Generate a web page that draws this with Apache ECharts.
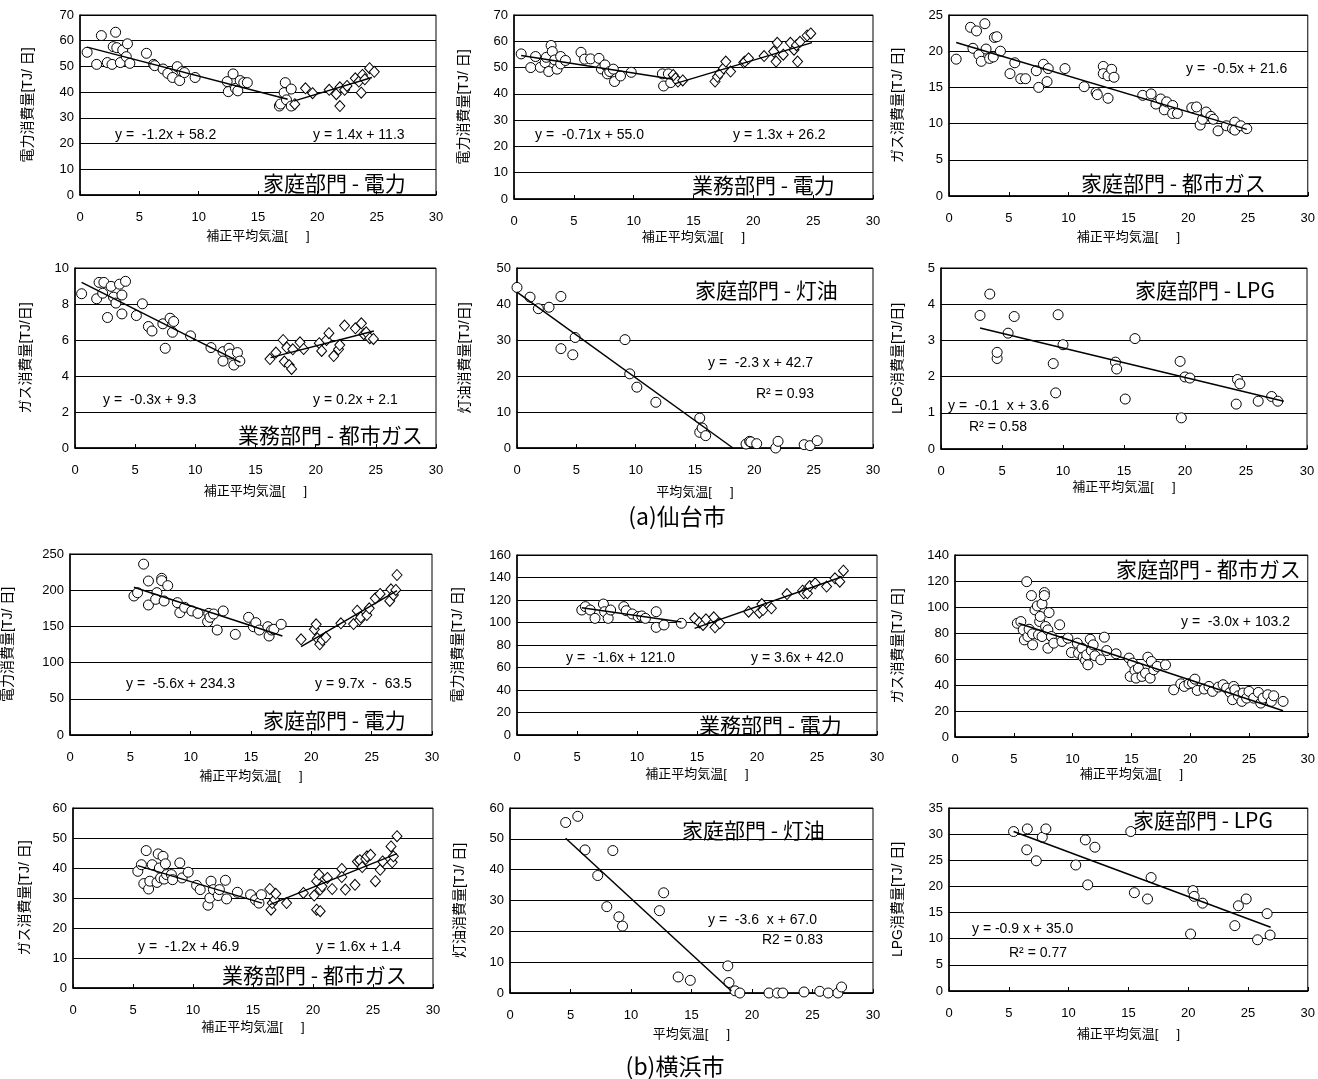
<!DOCTYPE html>
<html>
<head>
<meta charset="utf-8">
<style>
  html, body { margin: 0; padding: 0; background: #fff; }
  #chart { width: 1318px; height: 1079px; }
</style>
<script src="https://cdn.jsdelivr.net/npm/echarts@6/dist/echarts.min.js"></script>
</head>
<body>
<div id="chart"></div>
<script>
// ---- (a) 仙台市 ----
// 家庭部門 - 電力
const sdHomeElecLow = [[0.6,55.5],[1.4,50.8],[1.8,62],[2.3,51.5],[2.7,50.8],[3.0,63.3],[2.8,57.7],[3.1,57.3],[3.4,51.5],[3.6,56.4],[3.9,53.8],[4.0,58.8],[4.2,51.2],[5.6,55.1],[6.2,50.8],[6.3,50.3],[7.0,49],[7.4,47.3],[7.8,45.7],[8.2,49.9],[8.4,44.5],[8.6,48],[8.8,47.6],[9.7,45.7],[12.4,44.1],[12.5,40.2],[12.9,47.1],[13.1,41.5],[13.3,40.5],[13.5,44.5],[13.8,43.7],[14.1,43.7],[16.8,34.6],[16.9,35.4],[17.3,43.7],[17.2,39.8],[17.4,37],[17.8,41.2],[17.8,34.6]]
const sdHomeElecHigh = [[18.1,35.3],[19.0,41.5],[19.6,39.6],[21.0,40.9],[21.6,39.2],[21.9,41.9],[21.9,34.6],[22.3,40.9],[22.5,42.4],[23.2,45.4],[23.5,44.1],[23.7,39.8],[23.8,46.7],[24.0,45],[24.4,49.3],[24.8,47.9]]
const sdHomeElecFit = [[[0.6,57.5],[17.5,37.2]], [[18.0,36.5],[24.6,45.7]]]
// 業務部門 - 電力
const sdBizElecLow = [[0.6,55.2],[1.4,50],[1.8,54.2],[2.2,50.1],[2.6,51.9],[2.7,53.9],[2.9,48.5],[3.1,58.4],[3.2,56.1],[3.4,52.9],[3.6,49.4],[3.9,51.4],[3.9,54.2],[4.3,52.7],[5.6,55.8],[5.9,53.2],[6.4,53.3],[7.1,53.5],[7.3,49.5],[7.6,51],[7.8,47.6],[8.0,48.5],[8.3,49.4],[8.4,44.7],[8.9,46.8],[9.8,48.2],[12.4,47.6],[12.5,43],[12.9,47.6],[13.1,44.3]]
const sdBizElecHigh = [[13.3,47.2],[13.5,45.9],[13.7,44.7],[14.1,45.1],[16.8,44.7],[17.0,46.5],[17.2,47.8],[17.5,49.7],[17.7,52.3],[18.1,48.5],[19.2,51.9],[19.3,52.3],[19.6,53.5],[20.9,54.4],[21.7,56.1],[21.9,52.3],[22.0,59.4],[22.5,54.9],[23.1,59.4],[23.4,56.8],[23.6,58.5],[23.7,52.3],[23.9,59.8],[24.5,62.2],[24.8,63]]
const sdBizElecFit = [[[0.6,54.6],[13.3,45.6]], [[13.4,43.8],[24.9,59.5]]]
// 家庭部門 - 都市ガス
const sdHomeGas = [[0.6,18.9],[1.8,23.3],[2.0,20.4],[2.3,22.8],[2.5,19.5],[2.7,18.6],[3.0,23.8],[3.1,20.3],[3.4,19],[3.7,19.2],[3.8,21.9],[4.0,22],[4.3,20],[5.1,16.9],[5.5,18.4],[6.0,16.2],[6.4,16.2],[7.3,17.3],[7.5,15],[7.9,18.2],[8.2,15.8],[8.3,17.6],[9.7,17.6],[11.3,15.1],[12.3,14.3],[12.4,14],[12.9,17.9],[12.9,16.9],[13.3,13.5],[13.3,16.6],[13.6,17.5],[13.8,16.4],[16.2,13.9],[16.9,14.1],[17.3,12.7],[17.7,13.4],[18.0,11.9],[18.2,13],[18.7,12.5],[18.7,11.4],[19.1,11.4],[20.3,12.2],[20.7,12.3],[21.0,9.8],[21.2,10.6],[21.5,11.6],[21.9,11],[22.1,10.6],[22.5,9],[23.2,9.7],[23.7,9.3],[23.9,10.2],[23.9,9.1],[24.4,9.7],[24.9,9.3]]
const sdHomeGasFit = [[[0.6,21.2],[24.9,9.2]]]
// 業務部門 - 都市ガス
const sdBizGasLow = [[0.55,8.57],[1.8,8.29],[2.0,9.2],[2.4,9.2],[2.3,8.6],[2.7,7.25],[3.0,8.98],[3.2,8.38],[3.4,8.05],[3.7,9.1],[3.9,8.5],[3.9,7.45],[4.2,9.26],[5.1,7.36],[5.6,8.01],[6.1,6.75],[6.4,6.5],[7.3,6.9],[7.5,5.54],[7.9,7.21],[8.2,7.03],[8.1,6.43],[9.6,6.23],[11.3,5.58],[12.3,5.35],[12.3,4.83],[12.8,5.54],[12.9,5.22],[13.2,4.61],[13.5,5.3],[13.7,4.83]]
const sdBizGasHigh = [[16.2,4.94],[16.7,5.3],[17.3,6.0],[17.4,4.8],[17.6,5.58],[17.8,4.61],[18.0,4.39],[18.1,5.48],[18.7,5.87],[19.0,5.5],[20.3,5.82],[20.5,5.39],[20.9,6.0],[21.1,6.38],[21.5,5.11],[21.9,5.48],[22.0,5.72],[22.4,6.8],[23.3,6.65],[23.8,6.93],[24.0,6.32],[24.2,6.43],[24.5,6.1],[24.8,6.06]]
const sdBizGasFit = [[[0.55,9.2],[13.75,4.76]], [[16.25,5.02],[24.84,6.5]]]
// 家庭部門 - 灯油
const sdHomeKero = [[0,44.6],[1.1,41.9],[1.8,38.7],[2.7,39.1],[3.7,42.1],[3.7,27.6],[4.7,25.9],[4.9,30.7],[9.1,30.1],[9.5,20.6],[10.1,16.9],[11.7,12.7],[15.4,8.3],[15.4,4.35],[15.6,5.55],[15.9,3.43],[19.3,1.1],[19.6,1.85],[19.7,1.7],[20.2,1.2],[21.8,0],[22.0,1.85],[24.2,0.93],[24.7,0.65],[25.3,2.04]]
const sdHomeKeroFit = [[[0,43.3],[18.2,0]]]
// 家庭部門 - LPG
const sdHomeLpg = [[3.2,3.69],[4.0,4.28],[5.5,3.2],[4.6,2.5],[4.6,2.67],[6.0,3.66],[9.2,2.36],[9.4,1.55],[9.6,3.71],[10.0,2.88],[14.3,2.4],[14.4,2.21],[15.1,1.38],[15.9,3.05],[19.6,2.42],[19.7,0.86],[20.0,1.99],[20.4,1.96],[24.2,1.24],[24.3,1.92],[24.5,1.8],[26.0,1.32],[27.1,1.45],[27.6,1.32]]
const sdHomeLpgFit = [[[3.2,3.34],[28.1,1.32]]]

// ---- (b) 横浜市 ----
const ykHomeElecLow = [[5.3,192],[5.6,196.5],[6.1,236],[6.5,212.7],[6.5,179.6],[7.2,196.6],[7.1,187.4],[7.6,216.4],[7.6,213.2],[7.8,185.1],[8.1,206.3],[8.9,182.8],[9.1,169],[9.5,176.3],[10.1,171.3],[10.6,168],[11.4,156.5],[11.5,168],[11.6,162.5],[11.9,167.1],[12.2,145],[12.7,171.3],[13.7,139],[14.8,162.5],[15.2,149.6],[15.4,155.2],[15.7,145],[16.4,149.6],[16.5,136.7],[16.7,145],[16.9,146],[17.5,152.9]]
const ykHomeElecHigh = [[19.15,132.1],[20.25,145.9],[20.4,152.9],[20.5,133.5],[20.7,125.2],[20.9,131.2],[21.2,134.9],[22.45,154.2],[23.5,153.3],[23.8,171.7],[24.0,158.8],[24.1,162.5],[24.6,165.7],[24.8,175],[25.3,188.8],[25.7,194.8],[26.5,185.1],[26.6,201.2],[26.8,193.4],[27.0,200.3],[27.1,221]]
const ykHomeElecFit = [[[5.3,204],[17.6,136.7]], [[19.15,122],[27.1,199.4]]]
const ykBizElecLow = [[5.4,111.1],[5.7,114.1],[6.1,111.1],[6.5,103.7],[7.2,116.4],[7.3,109.6],[7.6,103.7],[7.8,111.1],[8.9,114.1],[9.1,110.5],[9.6,107.6],[10.1,105.2],[10.4,105.8],[10.7,103.7],[11.6,95.7],[11.6,109.6],[12.25,97.8],[13.7,99.3]]
const ykBizElecHigh = [[14.8,103.7],[15.2,99.9],[15.5,97.8],[15.75,102.8],[16.4,104.6],[16.5,95.7],[16.9,99.3],[19.3,109.6],[20.2,108.7],[20.4,116.4],[20.5,111.1],[21.2,112.6],[22.5,125.3],[23.8,128.3],[23.9,125.9],[24.2,125.9],[24.4,132.4],[24.85,134.8],[25.8,131.9],[26.5,139.3],[26.9,136.3],[27.2,146.1]]
const ykBizElecFit = [[[5.4,113.2],[13.7,100.4]], [[14.8,94.8],[27.1,140.7]]]
const ykHomeGas = [[5.3,87.5],[5.6,88.8],[5.8,82.4],[5.9,74.7],[6.1,119.5],[6.2,77.3],[6.3,82.9],[6.5,108.8],[6.6,79.3],[6.6,70.9],[6.8,97.8],[7.0,100.8],[7.1,78.6],[7.2,88.8],[7.25,92.7],[7.4,77.3],[7.4,102.4],[7.6,111.1],[7.6,108.8],[7.7,85],[7.9,82.4],[7.9,68.3],[8.0,95.7],[8.2,77.3],[8.4,72.2],[8.9,86.3],[9.1,73.5],[9.6,76],[9.9,65],[10.4,72.2],[10.5,64.5],[10.8,68.3],[10.9,61.4],[11.1,58.9],[11.2,63.2],[11.3,55.5],[11.5,75.2],[11.6,66.5],[11.75,70.9],[11.9,62.5],[12.4,59.4],[12.7,76.8],[12.9,66.5],[13.7,64],[14.8,60.7],[14.9,46.6],[15.1,56.8],[15.3,51.2],[15.4,45.3],[15.6,53],[15.9,46.6],[16.2,49.1],[16.4,61.4],[16.6,45.3],[16.7,58.1],[16.9,51.7],[17.2,54.3],[17.9,55.5],[18.6,36.3],[19.2,40.9],[19.5,38.9],[19.9,40.9],[20.2,41.5],[20.4,44.5],[20.6,35.8],[21.2,36.9],[21.6,38.9],[21.9,35.1],[22.4,38.4],[22.8,40.2],[23.1,37.6],[23.4,34.3],[23.6,28.7],[23.7,38.9],[23.8,36.3],[24.1,31.7],[24.4,27.4],[24.5,33.8],[24.8,29.9],[25.0,35.1],[25.4,29.9],[25.8,34.3],[26.0,26.1],[26.2,29.9],[26.6,32.5],[26.9,27.4],[27.1,31.7],[27.9,27.4]]
const ykHomeGasFit = [[[5.4,87.5],[27.9,20.2]]]
const ykBizGasLow = [[5.4,38.9],[5.7,41.1],[5.9,34.8],[6.1,45.8],[6.3,33],[6.4,35.6],[6.6,41.1],[7.0,35.2],[7.1,44.7],[7.2,40],[7.3,36.7],[7.5,43.9],[7.6,36.3],[7.7,41.4],[7.8,37.8],[8.2,37.8],[8.3,36.1],[8.9,41.7],[9.1,36.7],[9.6,38.6],[10.3,34.2],[10.6,32.8],[11.25,27.6],[11.4,30],[11.5,35.6],[11.7,32.8],[12.1,30.8],[12.2,32.8],[12.7,35.9],[12.8,29.7],[13.7,31.9],[14.8,31.1],[15.2,29.4],[15.5,28.3],[15.7,31.1]]
const ykBizGasHigh = [[16.4,33],[16.5,26.1],[16.6,28.3],[16.8,29.4],[16.9,31.4],[17.8,28.3],[19.2,31.7],[20.1,30.8],[20.3,35.6],[20.3,26.1],[20.5,37.8],[20.6,25.6],[20.6,32.8],[20.75,33.9],[21.2,36.7],[21.6,33],[22.4,39.7],[22.4,37],[22.7,32.8],[23.5,34.4],[23.7,42.2],[23.9,42.6],[24.1,40.3],[24.4,43],[24.5,43.9],[24.8,44.4],[25.2,35.6],[25.6,39.4],[25.8,42.2],[26.5,47.2],[26.6,41.9],[26.7,43.9],[27.0,50.6]]
const ykBizGasFit = [[[5.4,40.8],[15.75,28.3]], [[16.4,27.8],[27.0,44.8]]]
const ykHomeKero = [[4.6,55.3],[5.6,57.3],[6.2,46.4],[8.5,46.2],[7.25,38.1],[8.0,28],[9.0,24.7],[9.3,21.7],[12.35,26.7],[12.7,32.5],[13.9,5.2],[14.9,4.1],[18.0,8.8],[18.1,3.4],[18.6,0.7],[19.0,0],[21.4,0],[22.1,0],[22.55,0],[24.3,0.33],[25.6,0.54],[26.3,0],[27.1,0],[27.4,1.95]]
const ykHomeKeroFit = [[[4.6,50.2],[18.3,0.65]]]
const ykHomeLpg = [[5.4,30.5],[6.55,31],[6.5,27],[7.3,24.9],[7.8,29.4],[8.1,31],[10.6,24.1],[11.4,28.9],[11.6,20.3],[12.2,27.5],[15.2,30.5],[15.5,18.8],[16.6,17.6],[16.9,21.7],[20.2,10.9],[20.4,19.2],[20.5,18.1],[21.2,16.8],[23.9,12.5],[24.2,16.3],[24.85,17.6],[25.8,9.8],[26.6,14.8],[26.85,10.7]]
const ykHomeLpgFit = [[[5.4,30.5],[26.9,12.2]]]

const xTicks = [0, 30, 5]
const CJK = '"Noto Sans CJK JP", sans-serif'
const LAT = '"Liberation Sans", "Noto Sans CJK JP", sans-serif'
const X_CORR = '補正平均気温[     ]'
const X_AVG = '平均気温[     ]'

// 各パネルのレイアウト (grid: left, top, width, height)
const panels = [
  { grid: [80, 15, 356, 180], yMax: 70, yStep: 10, yName: '電力消費量[TJ/ 日]', yGap: 45, xName: X_CORR, xGap: 35,
    circles: sdHomeElecLow, diamonds: sdHomeElecHigh, fits: sdHomeElecFit,
    texts: [['y =  -1.2x + 58.2', 115, 135], ['y = 1.4x + 11.3', 313, 135], ['家庭部門 - 電力', 263, 183, 1]] },
  { grid: [514, 15, 359, 184], yMax: 70, yStep: 10, yName: '電力消費量[TJ/ 日]', yGap: 43, xName: X_CORR, xGap: 32,
    circles: sdBizElecLow, diamonds: sdBizElecHigh, fits: sdBizElecFit,
    texts: [['y =  -0.71x + 55.0', 535, 135], ['y = 1.3x + 26.2', 733, 135], ['業務部門 - 電力', 692, 185, 1]] },
  { grid: [949, 15, 359, 181], yMax: 25, yStep: 5, yName: 'ガス消費量[TJ/ 日]', yGap: 44, xName: X_CORR, xGap: 35,
    circles: sdHomeGas, diamonds: [], fits: sdHomeGasFit,
    texts: [['y =  -0.5x + 21.6', 1186, 69], ['家庭部門 - 都市ガス', 1081, 183, 1]] },
  { grid: [75, 268, 361, 180], yMax: 10, yStep: 2, yName: 'ガス消費量[TJ/日]', yGap: 42, xName: X_CORR, xGap: 37,
    circles: sdBizGasLow, diamonds: sdBizGasHigh, fits: sdBizGasFit,
    texts: [['y =  -0.3x + 9.3', 103, 400], ['y = 0.2x + 2.1', 313, 400], ['業務部門 - 都市ガス', 238, 435, 1]] },
  { grid: [517, 268, 356, 180], yMax: 50, yStep: 10, yName: '灯油消費量[TJ/日]', yGap: 45, xName: X_AVG, xGap: 38,
    circles: sdHomeKero, diamonds: [], fits: sdHomeKeroFit,
    texts: [['y =  -2.3 x + 42.7', 708, 363], ['R² = 0.93', 756, 394], ['家庭部門 - 灯油', 695, 290, 1]] },
  { grid: [941, 268, 366, 181], yMax: 5, yStep: 1, yName: 'LPG消費量[TJ/日]', yGap: 36, xName: X_CORR, xGap: 32,
    circles: sdHomeLpg, diamonds: [], fits: sdHomeLpgFit,
    texts: [['y =  -0.1  x + 3.6', 948, 406], ['R² = 0.58', 969, 427], ['家庭部門 - LPG', 1135, 290, 1]] },
  { grid: [68, 554, 364, 181], yMax: 250, yStep: 50, yName: '電力消費量[TJ/ 日]', yGap: 55, xName: X_CORR, xGap: 35,
    circles: ykHomeElecLow, diamonds: ykHomeElecHigh, fits: ykHomeElecFit,
    texts: [['y =  -5.6x + 234.3', 126, 684], ['y = 9.7x  -  63.5', 315, 684], ['家庭部門 - 電力', 263, 720, 1]] },
  { grid: [517, 555, 360, 180], yMax: 160, yStep: 20, yName: '電力消費量[TJ/ 日]', yGap: 52, xName: X_CORR, xGap: 33,
    circles: ykBizElecLow, diamonds: ykBizElecHigh, fits: ykBizElecFit,
    texts: [['y =  -1.6x + 121.0', 566, 658], ['y = 3.6x + 42.0', 751, 658], ['業務部門 - 電力', 699, 725, 1]] },
  { grid: [955, 555, 360, 182], yMax: 140, yStep: 20, yName: 'ガス消費量[TJ/ 日]', yGap: 50, xName: X_CORR, xGap: 31,
    circles: ykHomeGas, diamonds: [], fits: ykHomeGasFit,
    texts: [['y =  -3.0x + 103.2', 1181, 622], ['家庭部門 - 都市ガス', 1116, 569, 1]] },
  { grid: [73, 808, 360, 180], yMax: 60, yStep: 10, yName: 'ガス消費量[TJ/ 日]', yGap: 41, xName: X_CORR, xGap: 33,
    circles: ykBizGasLow, diamonds: ykBizGasHigh, fits: ykBizGasFit,
    texts: [['y =  -1.2x + 46.9', 138, 947], ['y = 1.6x + 1.4', 316, 947], ['業務部門 - 都市ガス', 222, 975, 1]] },
  { grid: [510, 808, 363, 185], yMax: 60, yStep: 10, yName: '灯油消費量[TJ/ 日]', yGap: 43, xName: X_AVG, xGap: 35,
    circles: ykHomeKero, diamonds: [], fits: ykHomeKeroFit,
    texts: [['y =  -3.6  x + 67.0', 708, 920], ['R2 = 0.83', 762, 940], ['家庭部門 - 灯油', 682, 830, 1]] },
  { grid: [949, 808, 359, 183], yMax: 35, yStep: 5, yName: 'LPG消費量[TJ/ 日]', yGap: 44, xName: X_CORR, xGap: 37,
    circles: ykHomeLpg, diamonds: [], fits: ykHomeLpgFit,
    texts: [['y = -0.9 x + 35.0', 972, 929], ['R² = 0.77', 1009, 953], ['家庭部門 - LPG', 1133, 820, 1]] }
]

let grids = [], xAxes = [], yAxes = [], series = [], graphics = []
panels.forEach((p, i) => {
  grids.push({ left: p.grid[0], top: p.grid[1], width: p.grid[2], height: p.grid[3],
    show: true, borderColor: '#000', borderWidth: 1, backgroundColor: 'transparent' })
  xAxes.push({
    gridIndex: i, type: 'value', min: xTicks[0], max: xTicks[1], interval: xTicks[2],
    name: p.xName, nameLocation: 'middle', nameGap: p.xGap,
    nameTextStyle: { fontSize: 13, color: '#000', fontFamily: LAT },
    axisLine: { lineStyle: { color: '#000', width: 1.5 } },
    axisTick: { inside: true, length: 4, lineStyle: { color: '#000' } },
    axisLabel: { margin: 16, fontSize: 13, color: '#000', fontFamily: LAT },
    splitLine: { show: false }
  })
  yAxes.push({
    gridIndex: i, type: 'value', min: 0, max: p.yMax, interval: p.yStep,
    name: p.yName, nameLocation: 'middle', nameGap: p.yGap,
    nameTextStyle: { fontSize: 14, color: '#000', fontFamily: LAT },
    axisLine: { show: true, lineStyle: { color: '#000', width: 1.5 } },
    axisTick: { show: false },
    axisLabel: { margin: 6, fontSize: 13, color: '#000', fontFamily: LAT },
    splitLine: { lineStyle: { color: '#000', width: 1 } }
  })
  const mk = (data, sym, size) => ({
    type: 'scatter', xAxisIndex: i, yAxisIndex: i, data: data, symbol: sym, symbolSize: size,
    itemStyle: { color: '#fff', borderColor: '#000', borderWidth: 1, opacity: 1 }, z: 2, silent: true
  })
  series.push(mk(p.circles, 'circle', 10))
  if (p.diamonds.length) series.push(mk(p.diamonds, 'diamond', [10, 11]))
  p.fits.forEach(f => {
    series.push({ type: 'line', xAxisIndex: i, yAxisIndex: i, data: f, symbol: 'none',
      lineStyle: { color: '#000', width: 1.5 }, z: 3, silent: true })
  })
  p.texts.forEach(t => {
    graphics.push({ type: 'text', x: t[1], y: t[2], z: 10,
      style: { text: t[0], fill: '#000', verticalAlign: 'middle',
        font: t[3] ? '21px ' + CJK : '14px ' + LAT } })
  })
})

graphics.push({ type: 'text', x: 677, y: 516, z: 10,
  style: { text: '(a)仙台市', fill: '#000', align: 'center', verticalAlign: 'middle', font: '23px ' + CJK } })
graphics.push({ type: 'text', x: 675, y: 1066, z: 10,
  style: { text: '(b)横浜市', fill: '#000', align: 'center', verticalAlign: 'middle', font: '23px ' + CJK } })

const myChart = echarts.init(document.getElementById('chart'), null, { renderer: 'canvas' })
myChart.setOption({
  backgroundColor: '#fff',
  animation: false,
  textStyle: { fontFamily: LAT },
  grid: grids,
  xAxis: xAxes,
  yAxis: yAxes,
  series: series,
  graphic: graphics
})
</script>
</body>
</html>
